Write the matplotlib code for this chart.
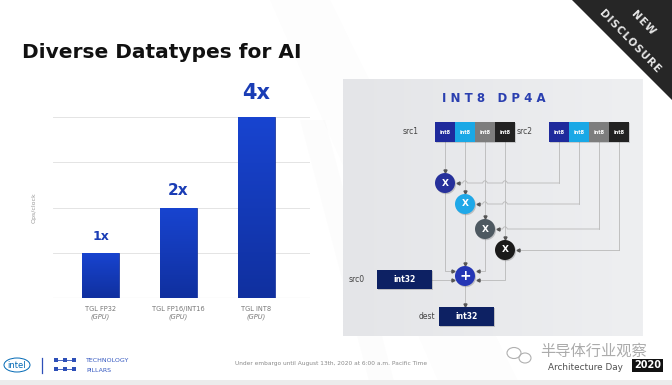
import numpy as np
import matplotlib
matplotlib.use("Agg")
import matplotlib.pyplot as plt
from matplotlib.patches import Rectangle, Circle, Polygon, Ellipse
from matplotlib.colors import LinearSegmentedColormap

# data
categories = ["TGL FP32", "TGL FP16/INT16", "TGL INT8"]
sublabels = ["(GPU)", "(GPU)", "(GPU)"]
ops_per_clock = [1, 2, 4]
bar_labels = ["1x", "2x", "4x"]
label_sizes = [9, 11, 15]

src_cells = ["int8", "int8", "int8", "int8"]
cell_colors = ["#1f2a9c", "#19a8e6", "#7d7d7d", "#222222"]
circle_colors = ["#26309b", "#1fa8e8", "#4e5961", "#1a1a1a"]

blue = "#1a3db5"

fig = plt.figure(figsize=(6.72, 3.85), dpi=100)
fig.patch.set_facecolor("white")

# full-figure axes in pixel coords for the slide decoration
bg = fig.add_axes([0, 0, 1, 1], zorder=0)
bg.set_xlim(0, 672)
bg.set_ylim(385, 0)
bg.axis("off")

# faint diagonal streaks of the slide background
for pts, a in [([(270, 0), (330, 0), (520, 385), (440, 385)], 0.02),
               ([(300, 120), (325, 120), (395, 385), (370, 385)], 0.025)]:
    bg.add_patch(Polygon(pts, closed=True, fc="#9a9a9a", ec="none", alpha=a))

# title
bg.text(22, 52, "Diverse Datatypes for AI", fontsize=14.5, fontweight="bold",
        color="#111111", ha="left", va="center")

# ---- diagram panel ----
grad = np.linspace(0, 1, 200).reshape(1, -1)
pcmap = LinearSegmentedColormap.from_list("p", ["#e4e5e8", "#eeeff1"])
bg.imshow(grad, extent=[343, 643, 336, 79], cmap=pcmap, aspect="auto", zorder=1)
bg.set_xlim(0, 672)
bg.set_ylim(385, 0)

bg.text(494, 98, "I N T 8   D P 4 A", fontsize=8.5, fontweight="bold",
        color="#2a3fb0", ha="center", va="center", zorder=5)

line_c = "#b9b9b9"
arr_c = "#555555"

x1 = [445 + 20 * i for i in range(4)]
x2 = [559 + 20 * i for i in range(4)]
cy = [183, 204, 229, 250]
r = 10
px, py = 465, 276


def hline_hops(y, xa, xb, hops):
    # horizontal line with small jumps where it crosses vertical lines
    xs = [xa]
    ys = [y]
    for h in sorted(hops):
        t = np.linspace(np.pi, 0, 9)
        xs += list(h + 2.2 * np.cos(t))
        ys += list(y - 2.2 * np.sin(t))
    xs.append(xb)
    ys.append(y)
    bg.plot(xs, ys, color=line_c, lw=0.6, zorder=2)


for i in range(4):
    # src1 -> multiplier top
    bg.plot([x1[i], x1[i]], [142, cy[i] - r - 2], color=line_c, lw=0.6, zorder=2)
    bg.plot(x1[i], cy[i] - r - 2.5, marker="v", ms=2.2, color=arr_c, zorder=3)
    # src2 -> multiplier right
    bg.plot([x2[i], x2[i]], [142, cy[i]], color=line_c, lw=0.6, zorder=2)
    hline_hops(cy[i], x1[i] + r + 2, x2[i], [x1[j] for j in range(i + 1, 4)])
    bg.plot(x1[i] + r + 2.5, cy[i], marker="<", ms=2.2, color=arr_c, zorder=3)

# multiplier outputs into the adder
bg.plot([x1[0], x1[0], px - r - 2], [cy[0] + r, 271, 271], color=line_c, lw=0.6, zorder=2)
bg.plot(px - r - 2.5, 271, marker=">", ms=2.2, color=arr_c, zorder=3)
bg.plot([x1[1], x1[1]], [cy[1] + r, py - r - 2], color=line_c, lw=0.6, zorder=2)
bg.plot(px, py - r - 2.5, marker="v", ms=2.2, color=arr_c, zorder=3)
bg.plot([x1[2], x1[2], px + r + 2], [cy[2] + r, 271, 271], color=line_c, lw=0.6, zorder=2)
bg.plot(px + r + 2.5, 271, marker="<", ms=2.2, color=arr_c, zorder=3)
bg.plot([x1[3], x1[3], px + r + 2], [cy[3] + r, 280, 280], color=line_c, lw=0.6, zorder=2)
bg.plot(px + r + 2.5, 280, marker="<", ms=2.2, color=arr_c, zorder=3)
bg.plot([432, px - r - 2], [280, 280], color=line_c, lw=0.6, zorder=2)
bg.plot(px - r - 2.5, 280, marker=">", ms=2.2, color=arr_c, zorder=3)
bg.plot([px, px], [py + r, 305], color=line_c, lw=0.6, zorder=2)
bg.plot(px, 304.5, marker="v", ms=2.2, color=arr_c, zorder=3)

# source registers
for x0, lab in [(435, "src1"), (549, "src2")]:
    bg.add_patch(Rectangle((x0 + 1, 123), 80, 20, fc="#000000", alpha=0.15, ec="none", zorder=3))
    for i in range(4):
        bg.add_patch(Rectangle((x0 + 20 * i, 122), 20, 20, fc=cell_colors[i], ec="none", zorder=4))
        bg.text(x0 + 20 * i + 10, 132, src_cells[i], fontsize=3.6, fontweight="bold",
                color="white", ha="center", va="center", zorder=5)
    bg.text(x0 - 16, 132, lab, fontsize=5.5, color="#444444", ha="right", va="center", zorder=5)

# multipliers
for i in range(4):
    bg.add_patch(Circle((x1[i] + 1, cy[i] + 1.2), r, fc="#000000", alpha=0.18, ec="none", zorder=3))
    bg.add_patch(Circle((x1[i], cy[i]), r, fc=circle_colors[i], ec="none", zorder=4))
    bg.text(x1[i], cy[i], "X", fontsize=6.5, fontweight="bold", color="white",
            ha="center", va="center", zorder=5)

# adder
bg.add_patch(Circle((px + 1, py + 1.2), r, fc="#000000", alpha=0.18, ec="none", zorder=3))
bg.add_patch(Circle((px, py), r, fc="#2436b5", ec="none", zorder=4))
bg.text(px, py - 0.5, "+", fontsize=10, fontweight="bold", color="white",
        ha="center", va="center", zorder=5)

# int32 registers
for (bx, by, lab) in [(377, 270, "src0"), (439, 307, "dest")]:
    bg.add_patch(Rectangle((bx + 1, by + 1.2), 55, 19, fc="#000000", alpha=0.18, ec="none", zorder=3))
    bg.add_patch(Rectangle((bx, by), 55, 19, fc="#0d2163", ec="none", zorder=4))
    bg.text(bx + 27.5, by + 9.5, "int32", fontsize=5.5, fontweight="bold", color="white",
            ha="center", va="center", zorder=5)
    bg.text(bx - 4 if lab == "dest" else bx - 12, by + 9.5, lab, fontsize=5.5,
            color="#444444", ha="right", va="center", zorder=5)

# ---- NEW DISCLOSURE corner ----
bg.add_patch(Polygon([(572, 0), (672, 0), (672, 100)], closed=True, fc="#262626", ec="none", zorder=6))
bg.text(643, 22, "N\u200aE\u200aW", fontsize=7.5, fontweight="bold", color="#e6e6e6",
        rotation=-46, ha="center", va="center", zorder=7)
bg.text(630, 41, "\u200a".join("DISCLOSURE"), fontsize=7.5, fontweight="bold",
        color="#e6e6e6", rotation=-46, ha="center", va="center", zorder=7)

# ---- footer ----
bg.add_patch(Rectangle((0, 380), 672, 5, fc="#ececec", ec="none", zorder=1))
bg.add_patch(Ellipse((17, 365), 26, 14, fc="none", ec="#0068b5", lw=0.7, zorder=2))
bg.text(17, 365, "intel", fontsize=6, color="#0068b5", ha="center", va="center", zorder=3)
bg.plot([42, 42], [358, 373], color="#2d4fb8", lw=0.9)
for row in [360, 369]:
    bg.plot([56, 74], [row, row], color="#2d4fb8", lw=0.6)
    for sx in [56, 65, 74]:
        bg.add_patch(Rectangle((sx - 2, row - 2), 4, 4, fc="#2d4fb8", ec="none", zorder=3))
bg.text(86, 361, "TECHNOLOGY", fontsize=4.5, color="#3357c0", ha="left", va="center")
bg.text(86, 370, "PILLARS", fontsize=4.5, color="#3357c0", ha="left", va="center")
bg.text(331, 364, "Under embargo until August 13th, 2020 at 6:00 a.m. Pacific Time",
        fontsize=4.2, color="#8a8a8a", ha="center", va="center")

# watermark
bg.add_patch(Ellipse((514, 353), 14, 11, fc="none", ec="#b0b0b0", lw=0.8, zorder=3))
bg.add_patch(Ellipse((525, 358), 12, 10, fc="none", ec="#b0b0b0", lw=0.8, zorder=3))
bg.text(540, 351, "半导体行业观察", fontsize=11, color="#9c9c9c", alpha=0.85,
        family=["Noto Sans CJK SC", "DejaVu Sans"], ha="left", va="center", zorder=4)
bg.text(548, 367, "Architecture Day", fontsize=6.4, color="#505050",
        ha="left", va="center", zorder=3)
bg.add_patch(Rectangle((632, 359), 31, 13, fc="#111111", ec="none", zorder=3))
bg.text(647.5, 365.5, "2020", fontsize=7, fontweight="bold", color="white",
        ha="center", va="center", zorder=4)

# ---- bar chart ----
ax = fig.add_axes([53 / 672, 87 / 385, 257 / 672, 181 / 385], zorder=2)
ax.patch.set_alpha(0)
xpos = np.arange(len(categories))
width = 0.47

bars = ax.bar(xpos, ops_per_clock, width=width, color="#163cc0", edgecolor="#0e2a92",
              linewidth=0.5, zorder=3)
bcmap = LinearSegmentedColormap.from_list("b", ["#10309f", "#1844d0"])
g = np.linspace(0, 1, 100).reshape(-1, 1)
for b, v in zip(bars, ops_per_clock):
    im = ax.imshow(g, extent=[b.get_x(), b.get_x() + width, 0, v], origin="lower",
                   cmap=bcmap, aspect="auto", zorder=3.5)
    im.set_clip_path(b)

offsets = [11.5, 12.2, 17.3]
for x, v, lab, fs, off in zip(xpos, ops_per_clock, bar_labels, label_sizes, offsets):
    ax.annotate(lab, (x, v), xytext=(0, off), textcoords="offset points",
                ha="center", va="center", fontsize=fs, fontweight="bold", color=blue)

for x, c, s in zip(xpos, categories, sublabels):
    ax.text(x, -0.24, c, fontsize=4.8, color="#777777", ha="center", va="center")
    ax.text(x, -0.42, s, fontsize=4.8, color="#777777", style="italic", ha="center", va="center")

ax.set_xlim(-0.61, 2.69)
ax.set_ylim(0, 4)
ax.set_yticks([1, 2, 3, 4])
ax.set_xticks([])
ax.tick_params(left=False, labelleft=False)
ax.yaxis.grid(True, color="#e4e4e4", lw=0.7)
ax.set_axisbelow(True)
for sp in ax.spines.values():
    sp.set_visible(False)
ax.axhline(0, color="#cccccc", lw=0.8, zorder=2)
ax.set_ylabel("Ops/clock", fontsize=4.5, color="#999999", labelpad=12)

fig.savefig("out.png", dpi=100)
